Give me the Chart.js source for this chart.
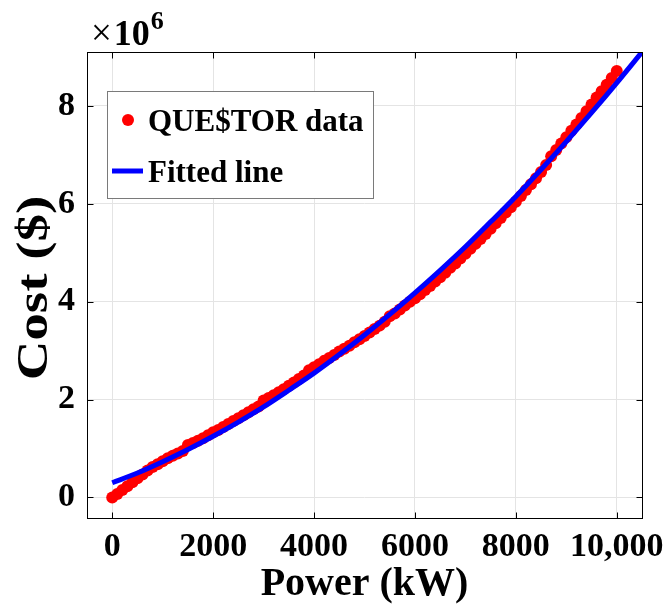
<!DOCTYPE html>
<html><head><meta charset="utf-8">
<script src="https://cdn.jsdelivr.net/npm/chart.js@4/dist/chart.umd.min.js"></script>
<style>html,body{margin:0;padding:0;background:#fff;}#wrap{width:664px;height:610px;}</style>
</head><body><div id="wrap"><canvas id="c" width="664" height="610"></canvas></div>
<script>
// ---- data (cost in millions of $) ----
const powerKW = [0,100,200,300,400,500,600,700,800,900,1000,1100,1200,1300,1400,1500,1600,1700,1800,1900,2000,2100,2200,2300,2400,2500,2600,2700,2800,2900,3000,3100,3200,3300,3400,3500,3600,3700,3800,3900,4000,4100,4200,4300,4400,4500,4600,4700,4800,4900,5000,5100,5200,5300,5400,5500,5600,5700,5800,5900,6000,6100,6200,6300,6400,6500,6600,6700,6800,6900,7000,7100,7200,7300,7400,7500,7600,7700,7800,7900,8000,8100,8200,8300,8400,8500,8600,8700,8800,8900,9000,9100,9200,9300,9400,9500,9600,9700,9800,9900,10000];
const questorCost = [0.00,0.07,0.15,0.23,0.31,0.39,0.47,0.55,0.62,0.68,0.74,0.80,0.85,0.90,0.95,1.07,1.11,1.16,1.21,1.27,1.33,1.38,1.44,1.50,1.56,1.62,1.68,1.74,1.80,1.86,1.98,2.03,2.09,2.15,2.21,2.28,2.35,2.42,2.49,2.60,2.66,2.72,2.79,2.85,2.91,2.98,3.04,3.10,3.17,3.23,3.30,3.37,3.44,3.51,3.59,3.70,3.76,3.84,3.92,4.00,4.07,4.15,4.24,4.32,4.41,4.50,4.59,4.69,4.78,4.88,4.98,5.08,5.18,5.28,5.38,5.49,5.60,5.71,5.82,5.93,6.04,6.16,6.28,6.40,6.52,6.65,6.79,6.97,7.10,7.23,7.36,7.49,7.62,7.75,7.89,8.03,8.17,8.30,8.43,8.57,8.71];
const fitPowerKW = [0,500,1000,1500,2000,2500,3000,3500,4000,4500,5000,5500,6000,6500,7000,7500,8000,8500,9000,9500,10000,10500];
const fitCost = [0.30,0.50,0.73,0.98,1.25,1.54,1.85,2.19,2.54,2.92,3.32,3.74,4.18,4.64,5.12,5.63,6.15,6.70,7.27,7.86,8.47,9.10];
const xTickValues = [0,2000,4000,6000,8000,10000];
const xTickLabels = ['0','2000','4000','6000','8000','10,000'];
const yTickValues = [0,2,4,6,8];
const yTickLabels = ['0','2','4','6','8'];
const seriesNames = ['QUE$TOR data','Fitted line'];
const xTitle = 'Power (kW)';
const yTitle = 'Cost ($)';
const yExponent = '6';

const FONT = "'Liberation Serif','Times New Roman',serif";

const boxPlugin = {
  id: 'boxPlugin',
  afterDraw(chart) {
    const {ctx, chartArea: a, scales} = chart;
    const L = Math.round(a.left) + 0.5, R = Math.round(a.right) + 0.5;
    const T = Math.round(a.top) + 0.5, B = Math.round(a.bottom) + 0.5;
    ctx.save();
    ctx.strokeStyle = '#000'; ctx.lineWidth = 1;
    ctx.strokeRect(L, T, R - L, B - T);
    const tl = 6;
    ctx.beginPath();
    xTickValues.forEach(v => {
      const x = Math.round(scales.x.getPixelForValue(v)) + 0.5;
      ctx.moveTo(x, B); ctx.lineTo(x, B - tl);
      ctx.moveTo(x, T); ctx.lineTo(x, T + tl);
    });
    yTickValues.forEach(v => {
      const y = Math.round(scales.y.getPixelForValue(v)) + 0.5;
      ctx.moveTo(L, y); ctx.lineTo(L + tl, y);
      ctx.moveTo(R, y); ctx.lineTo(R - tl, y);
    });
    ctx.stroke();

    // legend box
    ctx.fillStyle = '#fff';
    ctx.fillRect(107.5, 91.5, 266, 107);
    ctx.strokeStyle = '#7a7a7a';
    ctx.strokeRect(107.5, 91.5, 266, 107);
    ctx.fillStyle = '#ff0000';
    ctx.beginPath(); ctx.arc(128, 120, 6, 0, Math.PI * 2); ctx.fill();
    ctx.strokeStyle = '#0000ff'; ctx.lineWidth = 5;
    ctx.beginPath(); ctx.moveTo(112, 171); ctx.lineTo(143, 171); ctx.stroke();
    ctx.fillStyle = '#000';
    ctx.font = 'bold 31px ' + FONT;
    ctx.textAlign = 'left'; ctx.textBaseline = 'alphabetic';
    ctx.fillText(seriesNames[0], 148, 131);
    ctx.fillText(seriesNames[1], 148, 182);

    // exponent label
    ctx.font = '37px ' + FONT;
    ctx.fillText('\u00d7', 91, 45);
    const wx = ctx.measureText('\u00d7').width;
    ctx.font = 'bold 36px ' + FONT;
    ctx.fillText('10', 93 + wx, 45);
    const w10 = ctx.measureText('10').width;
    ctx.font = 'bold 26px ' + FONT;
    ctx.fillText(yExponent, 94 + wx + w10, 29);

    // y-axis title (rotated)
    ctx.translate(35, (a.top + a.bottom) / 2 + 3);
    ctx.rotate(-Math.PI / 2);
    ctx.scale(1.22, 1);
    ctx.font = 'bold 45px ' + FONT;
    ctx.textAlign = 'center'; ctx.textBaseline = 'middle';
    ctx.fillText(yTitle, 0, 0);
    ctx.restore();
  }
};

new Chart(document.getElementById('c'), {
  type: 'scatter',
  data: {
    datasets: [
      {
        label: seriesNames[1],
        data: fitPowerKW.map((x, i) => ({x, y: fitCost[i]})),
        showLine: true, borderColor: '#0000ff', borderWidth: 5,
        pointRadius: 0, cubicInterpolationMode: 'monotone', order: 0
      },
      {
        label: seriesNames[0],
        data: powerKW.map((x, i) => ({x, y: questorCost[i]})),
        showLine: false, backgroundColor: '#ff0000', borderWidth: 0,
        pointRadius: 6, order: 1
      }
    ]
  },
  options: {
    responsive: false, animation: false, devicePixelRatio: 1,
    layout: {padding: {top: 52, right: 22, left: 0, bottom: 0}},
    plugins: {legend: {display: false}, tooltip: {enabled: false}},
    scales: {
      x: {
        type: 'linear', min: -500, max: 10500,
        afterBuildTicks: s => { s.ticks = xTickValues.map(v => ({value: v})); },
        afterFit: s => { s.height = 92; s.paddingLeft = 0; s.paddingRight = 0; },
        ticks: {
          autoSkip: false, maxRotation: 0, padding: 9, color: '#000',
          font: {family: FONT, weight: 'bold', size: 34},
          callback: v => xTickLabels[xTickValues.indexOf(v)]
        },
        grid: {color: '#e4e4e4', drawTicks: false, lineWidth: 1},
        border: {display: false},
        title: {display: true, text: xTitle, color: '#000', font: {family: FONT, weight: 'bold', size: 40}, padding: {top: 0, bottom: 1}}
      },
      y: {
        type: 'linear', min: -0.42, max: 9.1,
        afterBuildTicks: s => { s.ticks = yTickValues.map(v => ({value: v})); },
        afterFit: s => { s.width = 87; s.paddingTop = 0; s.paddingBottom = 0; },
        ticks: {
          autoSkip: false, padding: 12, color: '#000',
          font: {family: FONT, weight: 'bold', size: 34},
          callback: v => yTickLabels[yTickValues.indexOf(v)]
        },
        grid: {color: '#e4e4e4', drawTicks: false, lineWidth: 1},
        border: {display: false},
        title: {display: false, text: yTitle}
      }
    }
  },
  plugins: [boxPlugin]
});
</script>
</body></html>
